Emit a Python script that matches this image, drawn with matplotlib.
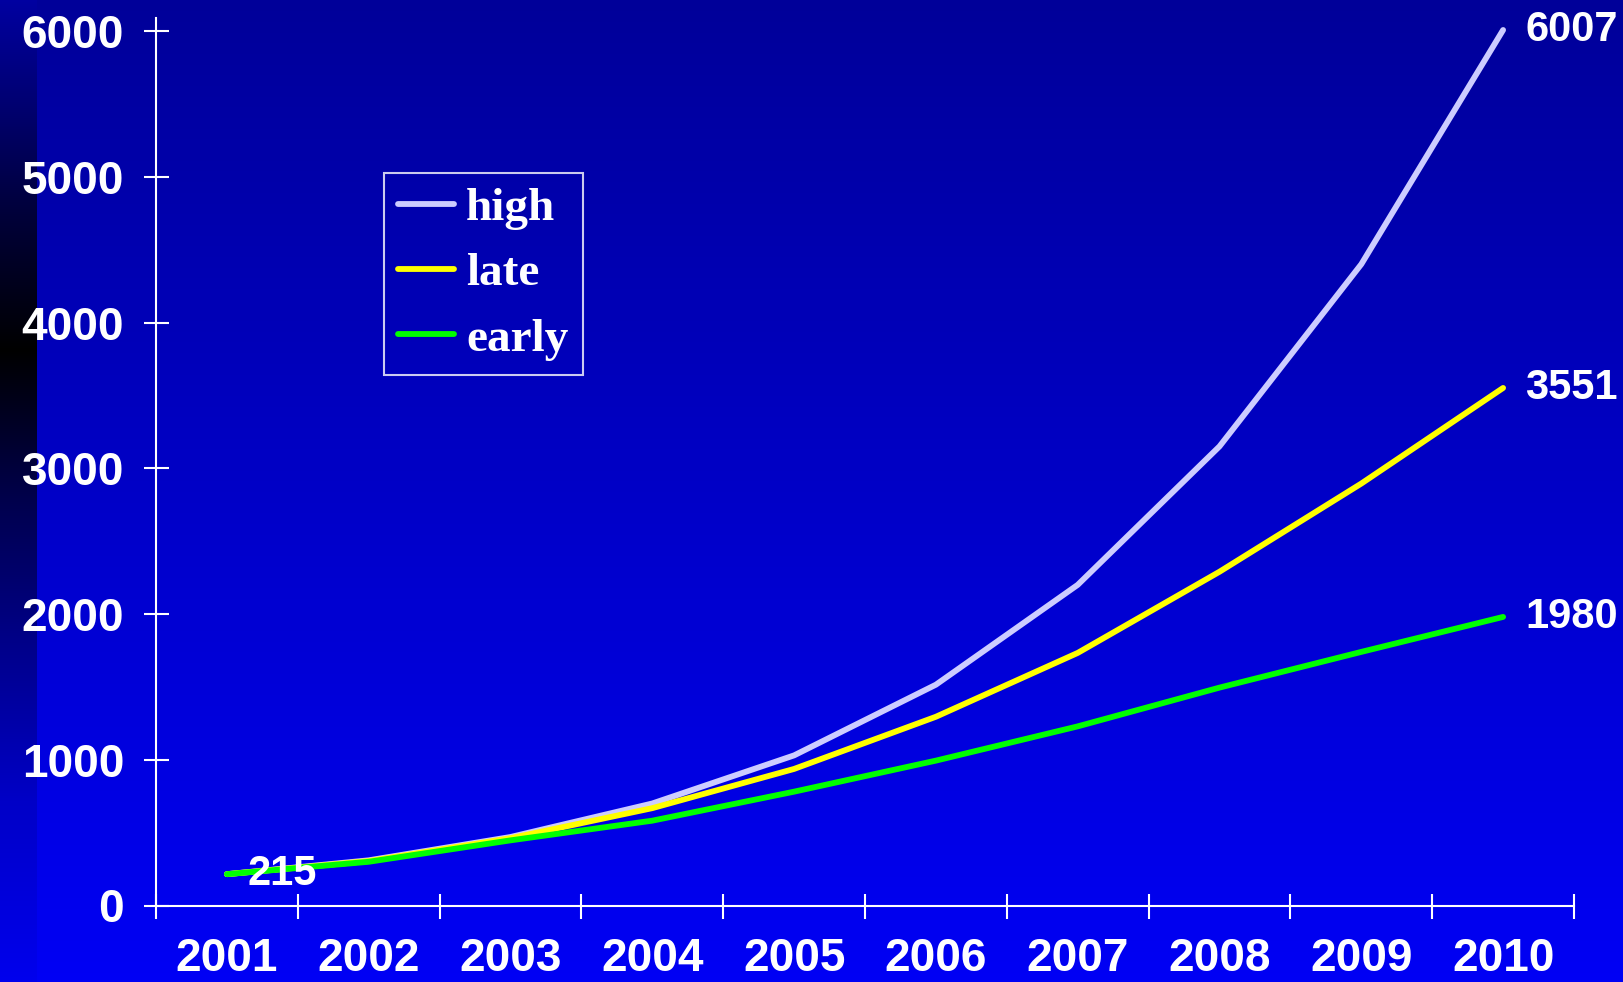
import numpy as np
import matplotlib
matplotlib.use("Agg")
import matplotlib.pyplot as plt
from matplotlib.font_manager import FontProperties

years = ["2001", "2002", "2003", "2004", "2005", "2006", "2007", "2008", "2009", "2010"]
high = [215, 310, 470, 700, 1030, 1515, 2200, 3150, 4400, 6007]
late = [215, 305, 462, 668, 937, 1295, 1733, 2290, 2895, 3551]
early = [215, 300, 447, 582, 781, 994, 1229, 1495, 1740, 1980]
yticks = [0, 1000, 2000, 3000, 4000, 5000, 6000]

W, H = 1623, 982
fig = plt.figure(figsize=(W / 100, H / 100), dpi=100)

# slide background: vertical blue gradient with a darker strip on the left
bg = fig.add_axes([0, 0, 1, 1], zorder=-10)
rows = np.linspace(0, 1, H)
blue = 0.60 + (0.96 - 0.60) * rows
img = np.zeros((H, W, 3))
img[:, :, 2] = blue[:, None]
strip = np.interp(np.arange(H), [0, 100, 200, 350, 500, 650, 800, 982],
                  [0.63, 0.45, 0.25, 0.0, 0.3, 0.55, 0.78, 0.93])
img[:, :37, 2] = strip[:, None]
bg.imshow(img, aspect="auto", interpolation="bilinear")
bg.axis("off")

num_font = FontProperties(family="Liberation Sans", weight="bold", size=33)
lab_font = FontProperties(family="Liberation Sans", weight="bold", size=30)
leg_font = FontProperties(family="Liberation Serif", weight="bold", size=34)

ax = fig.add_axes([156 / W, 1 - 905.5 / H, (1574 - 156) / W, (905.5 - 17.6) / H])
ax.patch.set_visible(False)

x = np.arange(len(years))
lw = 4.2
ax.plot(x, high, color="#CCCCFF", lw=lw, solid_capstyle="round", label="high")
ax.plot(x, late, color="#FFFF00", lw=lw, solid_capstyle="round", label="late")
ax.plot(x, early, color="#00FF00", lw=lw, solid_capstyle="round", label="early")

for series in (high, late, early):
    ax.annotate(str(series[-1]), (x[-1], series[-1]), xytext=(16, 0), textcoords="offset points",
                va="center", ha="left", color="white", fontproperties=lab_font)
ax.annotate(str(early[0]), (x[0], early[0]), xytext=(15, 0), textcoords="offset points",
            va="center", ha="left", color="white", fontproperties=lab_font)

ax.set_xlim(-0.5, 9.5)
ax.set_ylim(0, 6092)
ax.set_xticks(np.arange(-0.5, 10, 1))
ax.set_xticklabels([])
ax.set_xticks(x, minor=True)
ax.set_xticklabels(years, minor=True, fontproperties=num_font, color="white")
ax.set_yticks(yticks)
ax.set_yticklabels([str(v) for v in yticks], fontproperties=num_font, color="white")

ax.tick_params(axis="both", which="major", direction="inout", length=18, width=1.5, color="white")
ax.tick_params(axis="y", which="major", pad=14)
ax.tick_params(axis="x", which="minor", length=0, pad=23)

for side in ("top", "right"):
    ax.spines[side].set_visible(False)
for side in ("left", "bottom"):
    ax.spines[side].set_color("white")
    ax.spines[side].set_linewidth(1.5)

leg = ax.legend(loc="upper left", bbox_to_anchor=(384 / W, 1 - 173 / H), bbox_transform=fig.transFigure,
                prop=leg_font, labelcolor="white", frameon=True, fancybox=False, facecolor="none",
                edgecolor="white", borderpad=0.3, handlelength=1.18, handletextpad=0.26,
                labelspacing=0.47, borderaxespad=0)
leg.get_frame().set_linewidth(1.5)

fig.savefig("out.png", dpi=100)
